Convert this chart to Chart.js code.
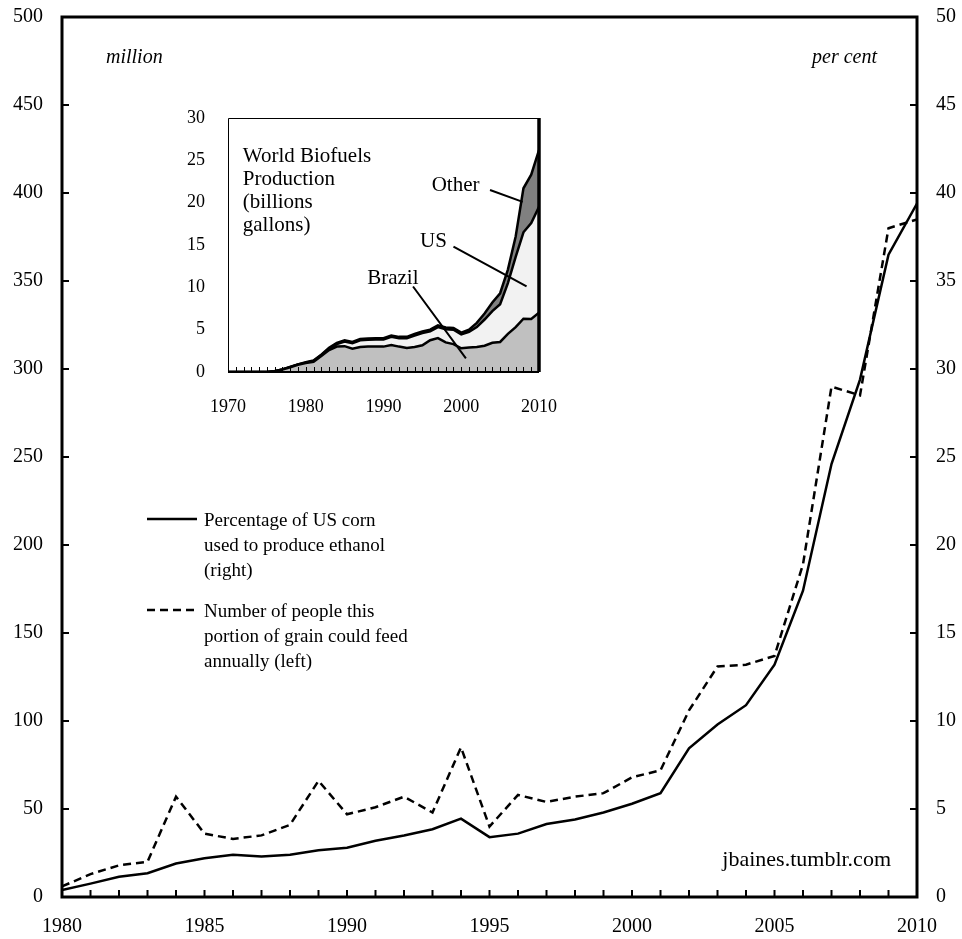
<!DOCTYPE html>
<html lang="en">
<head>
    <meta charset="UTF-8">
    <title>US corn used for ethanol</title>
    <script src="https://cdn.jsdelivr.net/npm/chart.js"></script>
    <style>
        body { margin: 0; background: #fff; }
        #wrap { position: relative; width: 962px; height: 939px; }
        #main { position: absolute; left: 0; top: 0; }
        #inset { position: absolute; left: 160px; top: 100px; }
    </style>
</head>
<body>
    <div id="wrap">
        <canvas id="main" width="962" height="939"></canvas>
        <canvas id="inset" width="400" height="330"></canvas>
    </div>

    <script>
        // main chart: 1980-2010
        const years = [1980, 1981, 1982, 1983, 1984, 1985, 1986, 1987, 1988, 1989,
                       1990, 1991, 1992, 1993, 1994, 1995, 1996, 1997, 1998, 1999,
                       2000, 2001, 2002, 2003, 2004, 2005, 2006, 2007, 2008, 2009, 2010];
        // percentage of US corn used to produce ethanol (right axis)
        const cornPct = [0.4, 0.76, 1.15, 1.35, 1.9, 2.2, 2.4, 2.3, 2.4, 2.65,
                         2.8, 3.2, 3.5, 3.85, 4.45, 3.4, 3.6, 4.15, 4.4, 4.8,
                         5.3, 5.9, 8.45, 9.8, 10.9, 13.2, 17.4, 24.6, 29.4, 36.5, 39.4];
        // number of people that grain could feed, million (left axis)
        const peopleFed = [6, 13, 18, 20, 57, 36, 33, 35, 41, 66,
                           47, 51, 57, 48, 85, 40, 58, 54, 57, 59,
                           68, 72, 106, 131, 132, 137, 189, 290, 285, 380, 385];

        // inset: world biofuels production, billions of gallons
        const bioYears = [1970, 1971, 1972, 1973, 1974, 1975, 1976, 1977, 1978, 1979,
                          1980, 1981, 1982, 1983, 1984, 1985, 1986, 1987, 1988, 1989,
                          1990, 1991, 1992, 1993, 1994, 1995, 1996, 1997, 1998, 1999,
                          2000, 2001, 2002, 2003, 2004, 2005, 2006, 2007, 2008, 2009, 2010];
        const brazil = [0, 0, 0, 0, 0, 0, 0.1, 0.3, 0.55, 0.85,
                        1.05, 1.2, 1.9, 2.6, 3.0, 3.05, 2.75, 2.95, 3.0, 3.0,
                        3.0, 3.2, 3.0, 2.85, 2.95, 3.15, 3.75, 4.0, 3.5, 3.3,
                        2.8, 2.9, 2.95, 3.1, 3.45, 3.55, 4.5, 5.3, 6.3, 6.25, 7.0];
        const us = [0, 0, 0, 0, 0, 0, 0, 0, 0.05, 0.05,
                    0.05, 0.1, 0.1, 0.15, 0.3, 0.55, 0.65, 0.8, 0.8, 0.85,
                    0.85, 0.95, 1.0, 1.15, 1.35, 1.45, 1.05, 1.3, 1.55, 1.7,
                    1.65, 1.85, 2.35, 3.1, 3.75, 4.45, 6.0, 8.3, 10.2, 11.35, 12.5];
        const other = [0, 0, 0, 0, 0, 0, 0, 0, 0, 0,
                       0.05, 0.05, 0.05, 0.1, 0.15, 0.15, 0.15, 0.15, 0.15, 0.15,
                       0.15, 0.15, 0.15, 0.15, 0.2, 0.2, 0.2, 0.2, 0.2, 0.2,
                       0.2, 0.25, 0.5, 0.7, 1.0, 1.3, 1.6, 2.4, 5.2, 5.7, 6.7];

        const legendSolid = ["Percentage of US corn", "used to produce ethanol", "(right)"];
        const legendDashed = ["Number of people this", "portion of grain could feed", "annually (left)"];
        const insetTitle = ["World Biofuels", "Production", "(billions", "gallons)"];

        const serif = '"Liberation Serif", "Times New Roman", serif';

        const pts = (xs, ys) => xs.map((x, i) => ({ x: x, y: ys[i] }));

        // fixed axis sizes, no extra padding from the tick labels
        const fixWidth = w => s => { s.width = w; s.paddingTop = 0; s.paddingBottom = 0; };
        const fixHeight = h => s => { s.height = h; s.paddingLeft = 0; s.paddingRight = 0; };

        // frame, inside ticks, notes and legend of the main chart
        const mainDecor = {
            id: "mainDecor",
            afterDraw(chart) {
                const { ctx, chartArea: a, scales } = chart;
                ctx.save();
                ctx.strokeStyle = "#000";
                ctx.lineWidth = 2;
                ctx.beginPath();
                scales.y.ticks.forEach(t => {
                    const py = scales.y.getPixelForValue(t.value);
                    ctx.moveTo(a.left, py); ctx.lineTo(a.left + 7, py);
                    ctx.moveTo(a.right, py); ctx.lineTo(a.right - 7, py);
                });
                for (let yr = years[0] + 1; yr < years[years.length - 1]; yr++) {
                    const px = scales.x.getPixelForValue(yr);
                    ctx.moveTo(px, a.bottom); ctx.lineTo(px, a.bottom - 7);
                }
                ctx.stroke();
                ctx.lineWidth = 3;
                ctx.strokeRect(a.left, a.top, a.right - a.left, a.bottom - a.top);

                ctx.fillStyle = "#000";
                ctx.textBaseline = "middle";
                ctx.font = "italic 20px " + serif;
                ctx.textAlign = "left";
                ctx.fillText("million", a.left + 44, a.top + 41);
                ctx.textAlign = "right";
                ctx.fillText("per cent", a.right - 40, a.top + 41);
                ctx.font = "22px " + serif;
                ctx.fillText("jbaines.tumblr.com", a.right - 26, a.bottom - 37);

                // legend
                ctx.font = "19px " + serif;
                ctx.textAlign = "left";
                ctx.lineWidth = 2.5;
                ctx.beginPath();
                ctx.moveTo(147, 519); ctx.lineTo(197, 519);
                ctx.stroke();
                ctx.setLineDash([8, 5]);
                ctx.beginPath();
                ctx.moveTo(147, 610); ctx.lineTo(198, 610);
                ctx.stroke();
                ctx.setLineDash([]);
                legendSolid.forEach((s, i) => ctx.fillText(s, 204, 521 + i * 25));
                legendDashed.forEach((s, i) => ctx.fillText(s, 204, 612 + i * 25));
                ctx.restore();
            }
        };

        new Chart(document.getElementById("main"), {
            type: "line",
            data: {
                datasets: [
                    {
                        label: "Percentage of US corn used to produce ethanol (right)",
                        data: pts(years, cornPct),
                        yAxisID: "y1",
                        borderColor: "#000",
                        borderWidth: 2.5,
                        pointRadius: 0,
                        tension: 0
                    },
                    {
                        label: "Number of people this portion of grain could feed annually (left)",
                        data: pts(years, peopleFed),
                        yAxisID: "y",
                        borderColor: "#000",
                        borderWidth: 2.5,
                        borderDash: [8, 5],
                        pointRadius: 0,
                        tension: 0
                    }
                ]
            },
            options: {
                responsive: false,
                animation: false,
                layout: { padding: { top: 17 } },
                plugins: { legend: { display: false }, tooltip: { enabled: false } },
                scales: {
                    x: {
                        type: "linear",
                        min: 1980, max: 2010,
                        grid: { display: false, drawTicks: false },
                        border: { display: false },
                        ticks: { stepSize: 5, padding: 18, color: "#000", font: { family: serif, size: 20 }, callback: v => String(v) },
                        afterFit: fixHeight(42)
                    },
                    y: {
                        position: "left",
                        min: 0, max: 500,
                        grid: { display: false, drawTicks: false },
                        border: { display: false },
                        ticks: { stepSize: 50, padding: 19, color: "#000", font: { family: serif, size: 20 } },
                        afterFit: fixWidth(62)
                    },
                    y1: {
                        position: "right",
                        min: 0, max: 50,
                        grid: { display: false, drawTicks: false },
                        border: { display: false },
                        ticks: { stepSize: 5, padding: 19, color: "#000", font: { family: serif, size: 20 } },
                        afterFit: fixWidth(45)
                    }
                }
            },
            plugins: [mainDecor]
        });

        // frame, ticks and labels of the inset
        const insetDecor = {
            id: "insetDecor",
            afterDraw(chart) {
                const { ctx, chartArea: a, scales: { x, y } } = chart;
                ctx.save();
                ctx.strokeStyle = "#000";
                ctx.lineWidth = 1;
                ctx.beginPath();
                for (let yr = bioYears[0] + 1; yr < bioYears[bioYears.length - 1]; yr++) {
                    const px = Math.round(x.getPixelForValue(yr)) + 0.5;
                    ctx.moveTo(px, a.bottom); ctx.lineTo(px, a.bottom - 5);
                }
                ctx.moveTo(a.left + 0.5, a.bottom); ctx.lineTo(a.left + 0.5, a.top + 0.5);
                ctx.lineTo(a.right, a.top + 0.5);
                ctx.stroke();
                ctx.lineWidth = 2;
                ctx.beginPath();
                ctx.moveTo(a.left, a.bottom); ctx.lineTo(a.right, a.bottom);
                ctx.stroke();
                ctx.lineWidth = 3.5;
                ctx.beginPath();
                ctx.moveTo(a.right, a.top); ctx.lineTo(a.right, a.bottom);
                ctx.stroke();

                ctx.fillStyle = "#000";
                ctx.textBaseline = "middle";
                ctx.textAlign = "left";
                ctx.font = "21px " + serif;
                const tx = x.getPixelForValue(1971.9), ty = y.getPixelForValue(25.4);
                insetTitle.forEach((s, i) => ctx.fillText(s, tx, ty + i * 23));
                ctx.fillText("Other", x.getPixelForValue(1996.2), y.getPixelForValue(22.0));
                ctx.fillText("US", x.getPixelForValue(1994.7), y.getPixelForValue(15.4));
                ctx.fillText("Brazil", x.getPixelForValue(1987.9), y.getPixelForValue(11.1));

                ctx.lineWidth = 2;
                const lead = (x1, y1, x2, y2) => {
                    ctx.moveTo(x.getPixelForValue(x1), y.getPixelForValue(y1));
                    ctx.lineTo(x.getPixelForValue(x2), y.getPixelForValue(y2));
                };
                ctx.beginPath();
                lead(2003.7, 21.5, 2007.9, 20.1);
                lead(1999.0, 14.8, 2008.4, 10.1);
                lead(1993.8, 10.1, 2000.6, 1.6);
                ctx.stroke();
                ctx.restore();
            }
        };

        new Chart(document.getElementById("inset"), {
            type: "line",
            data: {
                datasets: [
                    { label: "Brazil", data: pts(bioYears, brazil), backgroundColor: "#c0c0c0", fill: "origin" },
                    { label: "US", data: pts(bioYears, us), backgroundColor: "#f2f2f2", fill: "-1" },
                    { label: "Other", data: pts(bioYears, other), backgroundColor: "#808080", fill: "-1" }
                ].map(d => Object.assign(d, { borderColor: "#000", borderWidth: 2.5, pointRadius: 0, tension: 0 }))
            },
            options: {
                responsive: false,
                animation: false,
                layout: { padding: { top: 18, right: 21 } },
                plugins: { legend: { display: false }, tooltip: { enabled: false } },
                scales: {
                    x: {
                        type: "linear",
                        min: 1970, max: 2010,
                        grid: { display: false, drawTicks: false },
                        border: { display: false },
                        ticks: { stepSize: 10, padding: 24, color: "#000", font: { family: serif, size: 18 }, callback: v => String(v) },
                        afterFit: fixHeight(58)
                    },
                    y: {
                        stacked: true,
                        min: 0, max: 30,
                        grid: { display: false, drawTicks: false },
                        border: { display: false },
                        ticks: { stepSize: 5, padding: 23, color: "#000", font: { family: serif, size: 18 } },
                        afterFit: fixWidth(68)
                    }
                }
            },
            plugins: [insetDecor]
        });
    </script>
</body>
</html>
